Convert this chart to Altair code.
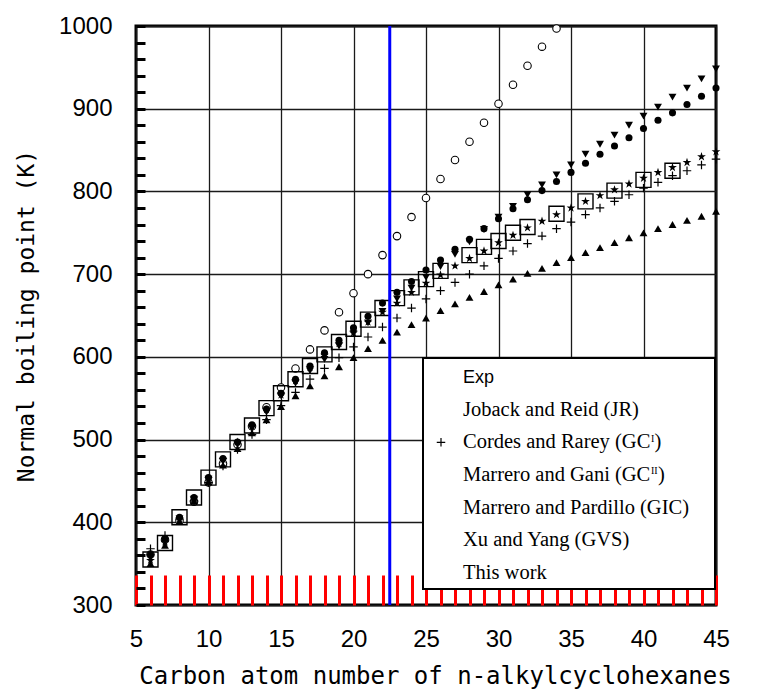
import altair as alt
import pandas as pd

# ---------------- data ----------------
carbon = list(range(6, 46))

exp_c = list(range(6, 27)) + [28, 29, 30, 31, 32, 34, 36, 38, 40, 42]
exp_t = [355, 375, 406, 430, 454, 476, 497, 517, 538, 556,
         573, 589, 603, 618, 634, 645, 659, 671, 684, 694,
         704, 723, 733, 740, 750, 757, 773, 788, 801, 814, 825]

jr_c = list(range(6, 35))
jr_t = [361, 379, 402, 425, 448, 471, 494, 516, 539, 563,
        586, 609, 632, 654, 677, 700, 723, 746, 769, 792,
        815, 838, 860, 883, 906, 929, 952, 975, 997]

gc1_t = [368, 384, 404, 426, 448, 468, 488, 506, 524, 541,
         557, 573, 586, 599, 612, 624, 636, 647, 659, 670,
         680, 690, 700, 710, 719, 728, 737, 746, 755, 763,
         772, 780, 788, 796, 804, 811, 819, 825, 832, 839]

gc2_t = [361, 380, 406, 430, 454, 477, 497, 518, 537, 556,
         573, 589, 605, 620, 635, 649, 665, 678, 691, 705,
         717, 730, 742, 755, 767, 779, 790, 801, 812, 823,
         834, 845, 855, 865, 876, 886, 895, 905, 915, 925]

gic_t = [357, 377, 404, 428, 452, 474, 494, 514, 533, 553,
         568, 583, 597, 613, 628, 641, 655, 670, 683, 696,
         709, 724, 739, 754, 769, 782, 796, 808, 820, 832,
         845, 857, 868, 880, 891, 902, 914, 925, 936, 948]

gvs_t = [350, 372, 401, 426, 449, 469, 489, 508, 524, 540,
         553, 565, 577, 588, 599, 610, 620, 630, 639, 647,
         656, 664, 672, 679, 687, 694, 701, 707, 714, 720,
         726, 732, 738, 744, 750, 755, 760, 765, 770, 776]

this_t = [354, 376, 404, 429, 453, 476, 497, 516, 536, 554,
          571, 587, 602, 616, 629, 642, 654, 665, 678, 689,
          699, 710, 719, 728, 738, 747, 756, 764, 772, 780,
          788, 795, 802, 809, 816, 823, 829, 835, 842, 848]

legend_labels = ["Exp", "Joback and Reid (JR)", "Cordes and Rarey (GC",
                 "Marrero and Gani (GC", "Marrero and Pardillo (GIC)",
                 "Xu and Yang (GVS)", "This work"]
sup_labels = ["I", "II"]

x_tick_vals = list(range(5, 46))
y_tick_vals = list(range(300, 1001, 20))
x_major, y_major = 5, 100
test_c = [22.5]

# ---------------- layout ----------------
W, H = 580, 579
TICKX = 30
TICKY = 9
PLUS = "M-1,0L1,0M0,-1L0,1"
STAR = ("M0,-1L0.2245,-0.309L0.951,-0.309L0.363,0.118L0.588,0.809L0,0.382"
        "L-0.588,0.809L-0.363,0.118L-0.951,-0.309L-0.2245,-0.309Z")

xs = alt.Scale(domain=[5, 45], nice=False, zero=False)
ys = alt.Scale(domain=[300, 1000], nice=False, zero=False)


def major(step):
    return {"condition": {"test": f"datum.value % {step} === 0", "value": 1}, "value": 0}


x_axis = alt.Axis(orient="bottom", values=x_tick_vals, offset=-TICKX,
                  grid=True, gridColor="#1a1a1a", gridWidth=1.3,
                  gridOpacity=major(x_major),
                  domain=False, ticks=True, tickSize=TICKX, tickWidth=3,
                  tickColor="red", tickOpacity=1, format="d",
                  labelExpr=f"datum.value % {x_major} === 0 ? datum.label : ''",
                  labelFont="Liberation Sans", labelFontSize=24, labelColor="black",
                  labelPadding=22, labelFlush=False, labelOverlap=False,
                  title="Carbon atom number of n-alkylcyclohexanes",
                  titleFont="DejaVu Sans Mono", titleFontSize=24,
                  titleFontWeight="normal", titleColor="black",
                  titleX=299, titleY=78 + TICKX, titleAlign="center",
                  titleBaseline="alphabetic")

y_axis = alt.Axis(orient="left", values=y_tick_vals, offset=-TICKY,
                  grid=True, gridColor="#1a1a1a", gridWidth=1.3,
                  gridOpacity=major(y_major),
                  domain=False, ticks=True, tickSize=TICKY, tickWidth=3,
                  tickColor="black", tickOpacity=1, format="d",
                  labelExpr=f"datum.value % {y_major} === 0 ? datum.label : ''",
                  labelFont="Liberation Sans", labelFontSize=24, labelColor="black",
                  labelPadding=24, labelFlush=False, labelOverlap=False,
                  title="Normal boiling point (K)",
                  titleFont="DejaVu Sans Mono", titleFontSize=23,
                  titleFontWeight="normal", titleColor="black",
                  titleX=-110 - TICKY, titleY=H / 2, titleAngle=270,
                  titleAlign="center", titleBaseline="middle")

X = alt.X("C:Q", scale=xs, axis=x_axis)
Y = alt.Y("T:Q", scale=ys, axis=y_axis)


def series(c, t, **mark):
    return alt.Chart(pd.DataFrame({"C": c, "T": t})).mark_point(
        opacity=1, **mark).encode(x=X, y=Y)


jr = series(jr_c, jr_t, shape="circle", filled=True, fill="white",
            stroke="black", strokeWidth=1.1, size=56)
gvs = series(carbon, gvs_t, shape="triangle-up", filled=True, color="black", size=62)
gc1 = series(carbon, gc1_t, shape=PLUS, filled=False, stroke="black",
             strokeWidth=1.2, size=72)
gc2 = series(carbon, gc2_t, shape="circle", filled=True, color="black", size=50)
gic = series(carbon, gic_t, shape="triangle-down", filled=True, color="black", size=62)
exp = series(exp_c, exp_t, shape="square", filled=False, stroke="black",
             strokeWidth=1.4, size=225)
this = series(carbon, this_t, shape=STAR, filled=True, color="black", size=85)

test_rule = alt.Chart(pd.DataFrame({"C": test_c})).mark_rule(
    color="blue", strokeWidth=3).encode(x=X, y=alt.value(0), y2=alt.value(H))

# ---------------- legend (drawn inside the plot) ----------------
leg_box = alt.Chart(pd.DataFrame({"a": [0]})).mark_rect(
    fill="white", stroke="black", strokeWidth=2).encode(
    x=alt.value(287), x2=alt.value(579), y=alt.value(332), y2=alt.value(563))

row_y = [351.7, 384, 416.3, 449, 481.7, 514, 547.3]
leg_layers = [leg_box]
for i, lab in enumerate(legend_labels):
    if i == 0:
        font, fs = "Liberation Sans", 18
    else:
        font, fs = "Liberation Serif", 20.5
    leg_layers.append(
        alt.Chart(pd.DataFrame({"t": [lab]})).mark_text(
            align="left", baseline="middle", font=font, fontSize=fs, color="black"
        ).encode(text="t:N", x=alt.value(327), y=alt.value(row_y[i])))

for j, (sup, ry) in enumerate(zip(sup_labels, [row_y[2], row_y[3]])):
    leg_layers.append(
        alt.Chart(pd.DataFrame({"t": [sup]})).mark_text(
            align="left", baseline="middle", font="Liberation Serif",
            fontSize=10, color="black"
        ).encode(text="t:N", x=alt.value(515), y=alt.value(ry - 3.8)))
    leg_layers.append(
        alt.Chart(pd.DataFrame({"t": [")"]})).mark_text(
            align="left", baseline="middle", font="Liberation Serif",
            fontSize=20.5, color="black"
        ).encode(text="t:N", x=alt.value(518.5 + 3.5 * j), y=alt.value(ry)))

leg_plus = alt.Chart(pd.DataFrame({"a": [0]})).mark_point(
    shape=PLUS, filled=False, stroke="black", strokeWidth=1.2, size=72, opacity=1
).encode(x=alt.value(305), y=alt.value(row_y[2]))
leg_layers.append(leg_plus)

chart = alt.layer(
    jr, gvs, gc1, gc2, gic, exp, this, test_rule, *leg_layers
).properties(
    width=W, height=H,
    autosize=alt.AutoSizeParams(type="none"),
    padding={"left": 136, "top": 26, "right": 763 - 136 - W, "bottom": 698 - 26 - H},
    background="white",
).configure_view(stroke="black", strokeWidth=3)

chart.save("out.html", embed_options={"renderer": "svg", "actions": False})
